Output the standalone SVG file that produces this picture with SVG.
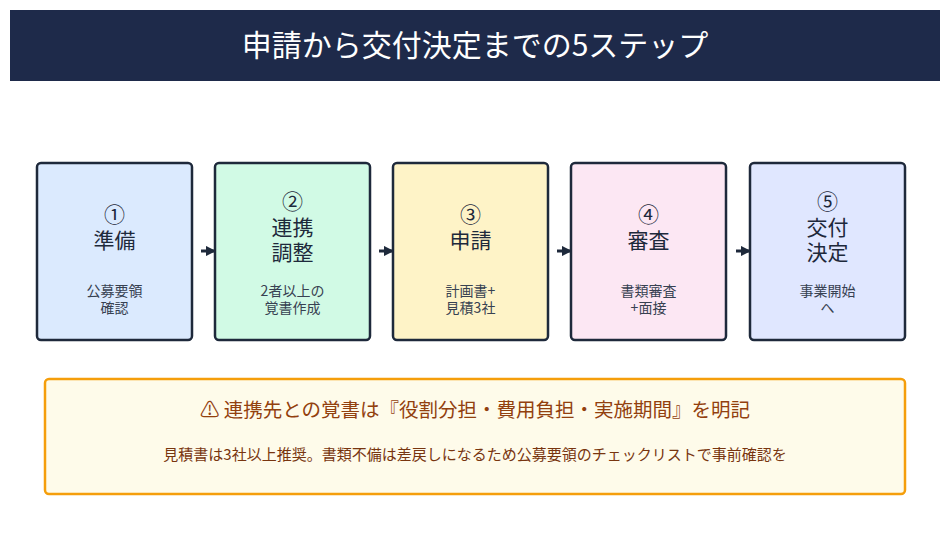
<svg xmlns="http://www.w3.org/2000/svg" width="950" height="539" viewBox="0 0 950 539">
<style>
text{font-family:"Noto Sans CJK JP","Noto Sans",sans-serif;text-anchor:middle}
.box{stroke:#1e293b;stroke-width:2.5}
.num{font-size:21px;fill:#1e293b}
.ttl{font-size:21px;fill:#1e293b}
.sub{font-size:14px;fill:#374151}
.con{stroke:#1e293b;stroke-width:3;fill:none;marker-end:url(#ah)}
</style>
<defs><marker id="ah" viewBox="0 0 10 10" refX="8" refY="5" markerWidth="3.5" markerHeight="3.5" orient="auto"><path d="M0,0L10,5L0,10z" fill="#1e293b"/></marker></defs>
<rect width="950" height="539" fill="#fff"/>
<g id="title"><rect x="10" y="10" width="930" height="71" fill="#1e2a4a"/><text x="475" y="56" style="font-size:30px;fill:#fff">申請から交付決定までの5ステップ</text></g>
<g id="n1"><rect class="box" x="37" y="163" width="155" height="177" rx="4" fill="#dbeafe"/><text class="num" x="114.5" y="222">①</text><text class="ttl" x="114.5" y="248">準備</text><text class="sub" x="114.5" y="296">公募要領</text><text class="sub" x="114.5" y="313">確認</text></g>
<g id="n2"><rect class="box" x="215" y="163" width="155" height="177" rx="4" fill="#d1fae5"/><text class="num" x="292.5" y="209">②</text><text class="ttl" x="292.5" y="235">連携</text><text class="ttl" x="292.5" y="260">調整</text><text class="sub" x="292.5" y="296">2者以上の</text><text class="sub" x="292.5" y="313">覚書作成</text></g>
<g id="n3"><rect class="box" x="393" y="163" width="155" height="177" rx="4" fill="#fef3c7"/><text class="num" x="470.5" y="222">③</text><text class="ttl" x="470.5" y="248">申請</text><text class="sub" x="470.5" y="296">計画書+</text><text class="sub" x="470.5" y="313">見積3社</text></g>
<g id="n4"><rect class="box" x="571" y="163" width="155" height="177" rx="4" fill="#fce7f3"/><text class="num" x="648.5" y="222">④</text><text class="ttl" x="648.5" y="248">審査</text><text class="sub" x="648.5" y="296">書類審査</text><text class="sub" x="648.5" y="313">+面接</text></g>
<g id="n5"><rect class="box" x="750" y="163" width="155" height="177" rx="4" fill="#e0e7ff"/><text class="num" x="827.5" y="209">⑤</text><text class="ttl" x="827.5" y="235">交付</text><text class="ttl" x="827.5" y="260">決定</text><text class="sub" x="827.5" y="296">事業開始</text><text class="sub" x="827.5" y="313">へ</text></g>
<g id="connectors"><line class="con" x1="201" y1="251" x2="214" y2="251"/><line class="con" x1="379" y1="251" x2="392" y2="251"/><line class="con" x1="557" y1="251" x2="570" y2="251"/><line class="con" x1="736" y1="251" x2="749" y2="251"/></g>
<g id="note"><rect x="45" y="379" width="860" height="115" rx="4" fill="#fefbea" stroke="#f59e0b" stroke-width="2.5"/><text x="475" y="417" style="font-size:19.5px;fill:#92400e">⚠ 連携先との覚書は『役割分担・費用負担・実施期間』を明記</text><text x="475" y="460" style="font-size:15px;fill:#78350f">見積書は3社以上推奨。書類不備は差戻しになるため公募要領のチェックリストで事前確認を</text></g>
</svg>
